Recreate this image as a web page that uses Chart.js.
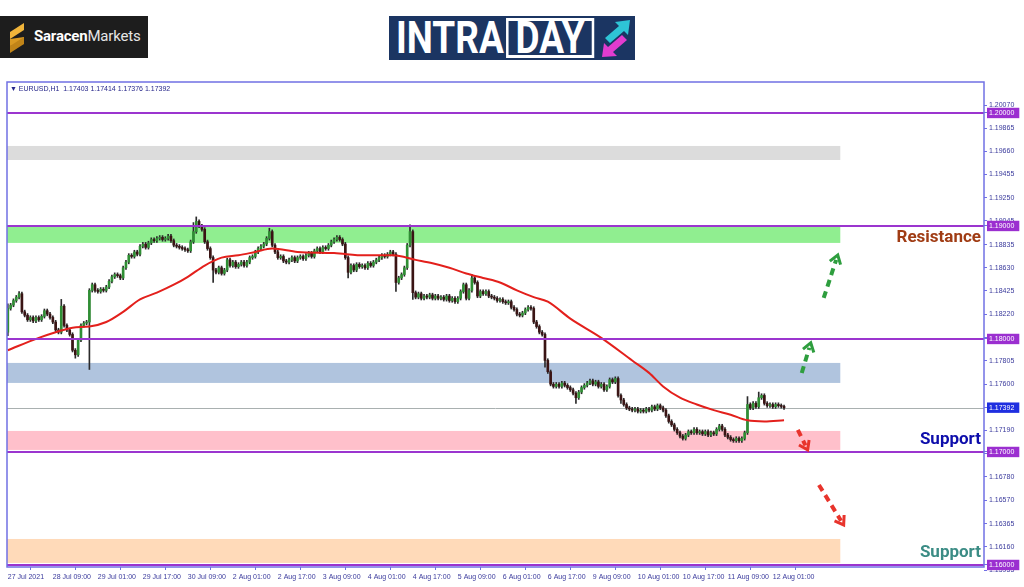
<!DOCTYPE html>
<html>
<head>
<meta charset="utf-8">
<title>EURUSD H1 Intraday</title>
<script src="https://cdn.jsdelivr.net/npm/chart.js"></script>
<style>
  html, body { margin: 0; padding: 0; background: #fff; }
  body { width: 1024px; height: 587px; position: relative; overflow: hidden; font-family: Roboto, sans-serif; }
  #chart { position: absolute; left: 0; top: 0; }
  .saracen { position: absolute; left: 0; top: 16px; width: 148px; height: 42px; background: #1d1d1d; }
  .saracen svg { position: absolute; left: 8px; top: 7px; }
  .saracen .name { position: absolute; left: 34px; top: 11px; font-size: 15px; color: #fff; letter-spacing: -0.2px; }
  .saracen b { font-weight: 700; }
  .saracen span { font-weight: 400; color: #e6e6e6; }
  .intraday { position: absolute; left: 389px; top: 16px; width: 246px; height: 44px; background: #1b3562; }
  .intraday .word { position: absolute; left: 7px; top: 1px; font-weight: 700; font-size: 44px; line-height: 42px; color: #fff;
                    transform: scaleX(0.84); transform-origin: left center; white-space: nowrap; }
  .intraday .day { display: inline-block; border: 3px solid #fff; line-height: 34px; padding: 0 9px 0 8px; margin-left: 3px; }
  .intraday svg { position: absolute; left: 210px; top: 2px; }
  #symbol { position: absolute; left: 10px; top: 85px; font: 7px "Liberation Sans", sans-serif; color: #26268a; white-space: pre; }
</style>
</head>
<body>
  <div class="saracen">
    <svg width="18" height="30" viewBox="0 0 18 30">
      <polygon points="16,0 2,9 2,16 16,7" fill="#f0b43a"/>
      <polygon points="2,16 16,14 16,21 2,23" fill="#d99a22"/>
      <polygon points="16,14 16,21 2,30 2,23" fill="#c08418"/>
    </svg>
    <div class="name"><b>Saracen</b><span>Markets</span></div>
  </div>
  <div class="intraday">
    <div class="word">INTRA<span class="day">DAY</span></div>
    <svg width="36" height="40" viewBox="0 0 36 40">
      <path d="M6,20 L20,8 L16,4 L31,2 L29,17 L25,13 L11,25 Z" fill="#2ec4d6"/>
      <path d="M28,22 L14,34 L18,38 L3,39 L5,25 L9,29 L23,17 Z" fill="#e23ccf"/>
    </svg>
  </div>
  <canvas id="chart" width="1024" height="587"></canvas>
  <div id="symbol"></div>

<script>
  // hourly closes, 27 Jul 17:00 .. 12 Aug 05:00 (open = previous close)
  const firstOpen = 1.1806;
  const closes = [
    1.1827, 1.1830, 1.1834, 1.1837, 1.1840, 1.1824, 1.1821, 1.1817, 1.1819, 1.1816,
    1.1819, 1.1817, 1.1820, 1.1825, 1.1822, 1.1819, 1.1815, 1.1808, 1.1806, 1.1829,
    1.1812, 1.1808, 1.1804, 1.1790, 1.1786, 1.1799, 1.1812, 1.1814, 1.1815, 1.1843,
    1.1848, 1.1843, 1.1842, 1.1844, 1.1843, 1.1846, 1.1851, 1.1855, 1.1857, 1.1856,
    1.1854, 1.1863, 1.1868, 1.1874, 1.1873, 1.1877, 1.1875, 1.1882, 1.1884, 1.1881,
    1.1885, 1.1888, 1.1887, 1.1889, 1.1890, 1.1888, 1.1889, 1.1891, 1.1887, 1.1883,
    1.1882, 1.1881, 1.1880, 1.1879, 1.1878, 1.1886, 1.1895, 1.1904, 1.1900, 1.1897,
    1.1886, 1.1880, 1.1872, 1.1861, 1.1859, 1.1863, 1.1858, 1.1861, 1.1870, 1.1865,
    1.1868, 1.1864, 1.1866, 1.1868, 1.1865, 1.1868, 1.1872, 1.1873, 1.1877, 1.1880,
    1.1882, 1.1884, 1.1889, 1.1895, 1.1883, 1.1877, 1.1872, 1.1873, 1.1869, 1.1868,
    1.1870, 1.1872, 1.1869, 1.1872, 1.1873, 1.1871, 1.1874, 1.1876, 1.1873, 1.1878,
    1.1880, 1.1877, 1.1881, 1.1880, 1.1883, 1.1886, 1.1888, 1.1890, 1.1888, 1.1884,
    1.1872, 1.1859, 1.1865, 1.1861, 1.1866, 1.1864, 1.1865, 1.1863, 1.1867, 1.1865,
    1.1868, 1.1870, 1.1872, 1.1874, 1.1873, 1.1875, 1.1877, 1.1875, 1.1850, 1.1854,
    1.1857, 1.1863, 1.1883, 1.1895, 1.1841, 1.1837, 1.1840, 1.1836, 1.1838, 1.1837,
    1.1839, 1.1836, 1.1838, 1.1836, 1.1837, 1.1835, 1.1838, 1.1834, 1.1836, 1.1833,
    1.1836, 1.1842, 1.1848, 1.1836, 1.1843, 1.1854, 1.1850, 1.1838, 1.1842, 1.1840,
    1.1842, 1.1838, 1.1837, 1.1836, 1.1834, 1.1835, 1.1833, 1.1832, 1.1833, 1.1828,
    1.1826, 1.1822, 1.1821, 1.1823, 1.1826, 1.1828, 1.1827, 1.1815, 1.1811, 1.1806,
    1.1804, 1.1781, 1.1771, 1.1760, 1.1758, 1.1760, 1.1758, 1.1761, 1.1759, 1.1757,
    1.1755, 1.1752, 1.1748, 1.1753, 1.1757, 1.1759, 1.1761, 1.1763, 1.1760, 1.1762,
    1.1758, 1.1760, 1.1755, 1.1758, 1.1764, 1.1762, 1.1765, 1.1750, 1.1746, 1.1742,
    1.1739, 1.1738, 1.1737, 1.1738, 1.1736, 1.1737, 1.1736, 1.1738, 1.1737, 1.1740,
    1.1738, 1.1741, 1.1739, 1.1737, 1.1732, 1.1727, 1.1724, 1.1720, 1.1717, 1.1714,
    1.1712, 1.1715, 1.1718, 1.1717, 1.1720, 1.1717, 1.1718, 1.1716, 1.1718, 1.1715,
    1.1717, 1.1716, 1.1720, 1.1723, 1.1720, 1.1715, 1.1713, 1.1711, 1.1710, 1.1712,
    1.1710, 1.1712, 1.1717, 1.1742, 1.1739, 1.1743, 1.1740, 1.1748, 1.1750, 1.1743,
    1.1741, 1.1742, 1.1740, 1.1742, 1.1741, 1.17403, 1.17392
  ];
  // wicks that reach visibly beyond the body (bar index -> price)
  const wickHigh = { 0: 1.1831, 4: 1.1842, 19: 1.1835, 66: 1.1903, 67: 1.1908, 93: 1.1898,
                     143: 1.1901, 165: 1.1857, 263: 1.1749, 267: 1.1753, 276: 1.17414 };
  const wickLow = { 0: 1.1803, 24: 1.1783, 29: 1.1773, 73: 1.1850, 121: 1.1854, 138: 1.1842,
                    144: 1.1835, 191: 1.1775, 202: 1.1743, 218: 1.1743, 276: 1.17376 };

  // moving average (red line)
  const maBars = [0, 11, 17, 23, 29, 35, 41, 47, 53, 59, 64, 70, 76, 82, 88, 94, 103, 116, 127, 137,
                  145, 151, 157, 163, 169, 175, 181, 187, 192, 200, 211, 222, 228, 233, 239, 245, 251, 257, 263, 269, 276];
  const maValues = [1.1790, 1.1801, 1.1806, 1.1810, 1.1811, 1.1815, 1.1824, 1.1835, 1.1841, 1.1848,
                    1.1855, 1.1865, 1.1872, 1.1874, 1.1877, 1.1880, 1.1877, 1.1876, 1.1874, 1.1874,
                    1.1870, 1.1867, 1.1863, 1.1858, 1.1854, 1.1850, 1.1843, 1.1837, 1.1833, 1.1818,
                    1.1801, 1.1781, 1.1770, 1.1758, 1.1748, 1.1742, 1.1737, 1.1733, 1.1728, 1.1727, 1.1728];

  // axis labels
  const timeBars = [0, 16, 32, 48, 64, 80, 96, 112, 128, 144, 160, 176, 192, 208, 224, 240, 256, 272];
  const timeLabels = ['27 Jul 2021', '28 Jul 09:00', '29 Jul 01:00', '29 Jul 17:00', '30 Jul 09:00',
                      '2 Aug 01:00', '2 Aug 17:00', '3 Aug 09:00', '4 Aug 01:00', '4 Aug 17:00',
                      '5 Aug 09:00', '6 Aug 01:00', '6 Aug 17:00', '9 Aug 09:00', '10 Aug 01:00',
                      '10 Aug 17:00', '11 Aug 09:00', '12 Aug 01:00'];
  const priceTicks = [1.20070, 1.19865, 1.19660, 1.19455, 1.19250, 1.19045, 1.18835, 1.18630, 1.18425,
                      1.18220, 1.18015, 1.17805, 1.17600, 1.17395, 1.17190, 1.16985, 1.16780, 1.16570,
                      1.16365, 1.16160, 1.15955];
  const levelPrices = [1.20, 1.19, 1.18, 1.17, 1.16];
  const lastPrice = 1.17392;

  // shaded zones
  const zoneTop = [1.19708, 1.18997, 1.17788, 1.17186, 1.16230];
  const zoneBottom = [1.19584, 1.18850, 1.17611, 1.17018, 1.16018];
  const zoneEndBar = 296;

  // dashed arrows [bar, price]
  const arrowFrom = [[290.1, 1.18363], [282.3, 1.17699], [280.9, 1.17195], [288.4, 1.16708]];
  const arrowTo = [[295.1, 1.18743], [285.5, 1.17965], [284.4, 1.17018], [297.2, 1.16354]];

  const noteTexts = ['Resistance', 'Support', 'Support'];
  const notePrices = [1.18900, 1.17110, 1.16110];

  // styles
  const zoneColors = ['#dcdcdc', '#90ee90', '#b0c4de', '#ffc0cb', '#ffdab9'];
  const arrowColors = ['#2e9e3e', '#2e9e3e', '#e8342c', '#e8342c'];
  const noteColors = ['#a03c14', '#0d0dab', '#3b8c85'];
  const WICK = 0.00015;
  const frameColor = '#7070e4';
  const axisText = '#3a3a9c';

  const opens = closes.map((c, i) => i === 0 ? firstOpen : closes[i - 1]);
  const bodyData = closes.map((c, i) => ({ x: i, y: [opens[i], c] }));
  const wickData = closes.map((c, i) => ({
    x: i,
    y: [wickLow[i] ?? Math.min(opens[i], c) - WICK, wickHigh[i] ?? Math.max(opens[i], c) + WICK]
  }));
  const maData = maBars.map((b, i) => ({ x: b, y: maValues[i] }));

  const n = closes.length - 1;
  document.getElementById('symbol').textContent =
    '\u25BC EURUSD,H1  ' + [opens[n], wickHigh[n], wickLow[n], closes[n]].map(v => v.toFixed(5)).join(' ');

  const isFlag = v => levelPrices.includes(v) || v === lastPrice;

  function drawArrow(ctx, x0, y0, x1, y1, color) {
    const a = Math.atan2(y1 - y0, x1 - x0);
    ctx.strokeStyle = color;
    ctx.lineWidth = 4;
    ctx.setLineDash([7, 5]);
    ctx.beginPath();
    ctx.moveTo(x0, y0);
    ctx.lineTo(x1 - 5 * Math.cos(a), y1 - 5 * Math.sin(a));
    ctx.stroke();
    ctx.setLineDash([]);
    ctx.lineWidth = 3;
    ctx.beginPath();
    ctx.moveTo(x1 - 10 * Math.cos(a - 0.6), y1 - 10 * Math.sin(a - 0.6));
    ctx.lineTo(x1, y1);
    ctx.lineTo(x1 - 10 * Math.cos(a + 0.6), y1 - 10 * Math.sin(a + 0.6));
    ctx.stroke();
  }

  const overlay = {
    id: 'overlay',
    beforeDatasetsDraw(chart) {
      const { ctx, chartArea: area, scales: { x, y } } = chart;
      ctx.save();
      ctx.beginPath();
      ctx.rect(area.left, area.top, area.width, area.height);
      ctx.clip();
      const xr = x.getPixelForValue(zoneEndBar);
      zoneTop.forEach((t, k) => {
        const y1 = y.getPixelForValue(t), y2 = y.getPixelForValue(zoneBottom[k]);
        ctx.fillStyle = zoneColors[k];
        ctx.fillRect(area.left, y1, xr - area.left, y2 - y1);
      });
      const yl = Math.round(y.getPixelForValue(lastPrice)) + 0.5;
      ctx.strokeStyle = '#a9b0b0';
      ctx.lineWidth = 1;
      ctx.beginPath();
      ctx.moveTo(area.left, yl);
      ctx.lineTo(area.right, yl);
      ctx.stroke();
      ctx.restore();
    },
    afterDatasetsDraw(chart) {
      const { ctx, chartArea: area, scales: { x, y } } = chart;
      ctx.save();
      ctx.strokeStyle = '#9b35cf';
      ctx.lineWidth = 2;
      levelPrices.forEach(p => {
        const yy = y.getPixelForValue(p);
        ctx.beginPath();
        ctx.moveTo(area.left, yy);
        ctx.lineTo(area.right, yy);
        ctx.stroke();
      });
      arrowFrom.forEach((f, k) => {
        drawArrow(ctx, x.getPixelForValue(f[0]), y.getPixelForValue(f[1]),
                  x.getPixelForValue(arrowTo[k][0]), y.getPixelForValue(arrowTo[k][1]), arrowColors[k]);
      });
      ctx.font = 'bold 17px Roboto';
      ctx.textAlign = 'right';
      ctx.textBaseline = 'middle';
      noteTexts.forEach((t, k) => {
        ctx.fillStyle = noteColors[k];
        ctx.fillText(t, area.right - 3, y.getPixelForValue(notePrices[k]));
      });
      ctx.strokeStyle = frameColor;
      ctx.lineWidth = 1.5;
      ctx.strokeRect(area.left, area.top, area.width, area.height);
      ctx.restore();
    }
  };

  new Chart(document.getElementById('chart'), {
    type: 'bar',
    data: {
      datasets: [
        {
          type: 'line',
          data: maData,
          borderColor: '#e3201c',
          borderWidth: 2,
          pointRadius: 0,
          cubicInterpolationMode: 'monotone',
          order: 1
        },
        {
          data: bodyData,
          grouped: false,
          barThickness: 2,
          minBarLength: 1,
          backgroundColor: c => {
            const v = c.raw && c.raw.y;
            return v && v[1] >= v[0] ? '#2f8f34' : '#3a1414';
          },
          order: 2
        },
        {
          data: wickData,
          grouped: false,
          barThickness: 1,
          backgroundColor: '#2b2b2b',
          order: 3
        }
      ]
    },
    options: {
      responsive: false,
      animation: false,
      layout: { padding: { left: 7, top: 82, right: 0, bottom: 0 } },
      plugins: { legend: { display: false }, tooltip: { enabled: false } },
      scales: {
        x: {
          type: 'linear',
          min: -0.3,
          max: 347.1,
          offset: false,
          afterBuildTicks: s => { s.ticks = timeBars.map(v => ({ value: v })); },
          afterFit: s => { s.height = 20; },
          border: { display: false },
          grid: { drawOnChartArea: false, drawTicks: true, tickLength: 3, color: frameColor },
          ticks: {
            autoSkip: false,
            maxRotation: 0,
            align: 'start',
            padding: 3,
            color: axisText,
            font: { family: 'Liberation Sans', size: 7 },
            callback: v => timeLabels[timeBars.indexOf(v)] ?? ''
          }
        },
        y: {
          position: 'right',
          min: 1.15982,
          max: 1.20274,
          afterBuildTicks: s => {
            s.ticks = priceTicks.concat(levelPrices, [lastPrice]).map(v => ({ value: v }));
          },
          afterFit: s => { s.width = 40; },
          border: { display: false },
          grid: { drawOnChartArea: false, drawTicks: true, tickLength: 3, color: frameColor },
          ticks: {
            autoSkip: false,
            padding: 2,
            font: { family: 'Liberation Sans', size: 7 },
            color: c => isFlag(c.tick.value) ? '#ffffff' : axisText,
            showLabelBackdrop: c => isFlag(c.tick.value),
            backdropColor: c => c.tick.value === lastPrice ? '#1f2fe0' : '#9b2fd0',
            backdropPadding: { left: 2, right: 5, top: 1, bottom: 1 },
            callback: v => v.toFixed(5)
          }
        }
      }
    },
    plugins: [overlay]
  });
</script>
</body>
</html>
